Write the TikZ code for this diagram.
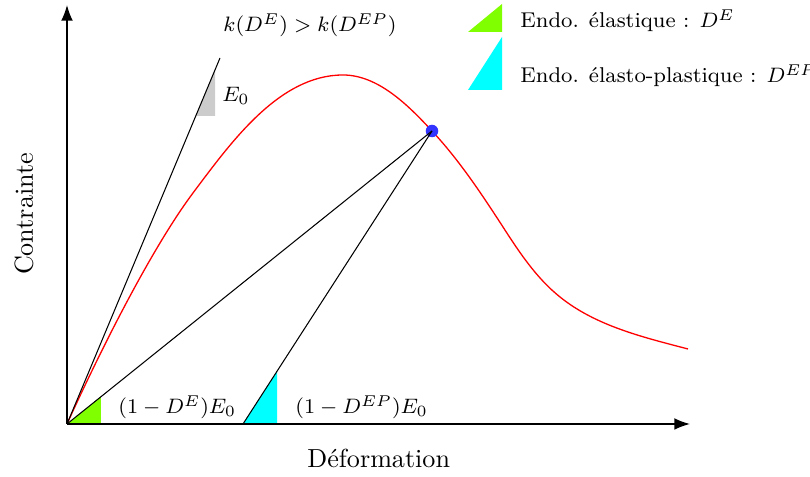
\documentclass[tikz,border=0pt]{standalone}
\usepackage{amsmath}
\usepackage{amssymb}
\usepackage{xcolor}
\usepackage{tikz}
\usetikzlibrary{arrows.meta,calc}

\definecolor{vertendo}{RGB}{128,255,0}
\definecolor{cyanendo}{RGB}{0,255,255}

\begin{document}
\begin{tikzpicture}[
    x=9.58pt, y=9.58pt,
    axis/.style={-{Latex[length=6pt,width=4.5pt]}, semithick},
    fine/.style={black, line width=0.4pt},
    courbe/.style={red, line width=0.5pt},
    txt/.style={anchor=base west},
    lab/.style={anchor=base west, font=\fontsize{8.5pt}{10pt}\selectfont},
    leg/.style={anchor=base west, font=\fontsize{8.2pt}{10pt}\selectfont},
    dot/.style={circle, fill=blue!80, inner sep=0pt, minimum size=4.8pt}
]
    \useasboundingbox (-2.68,-2.12) rectangle (29.72,16.96);

    % reperes
    \coordinate (O) at (0,0);
    \coordinate (xmax) at (24.92,0);
    \coordinate (ymax) at (0,16.76);
    \coordinate (E0end) at (6.12,14.64);
    \coordinate (dech) at (7.04,0);

    % pentes (triangles)
    \fill [gray!40] (5.16,12.32) -- (5.92,12.32) -- (5.92,14.16) -- cycle;
    \fill [vertendo] (O) -- (1.36,0) -- (1.36,1.09) -- cycle;
    \fill [cyanendo] (dech) -- (8.4,0) -- (8.4,2.11) -- cycle;

    % legende
    \fill [vertendo] (16.04,15.68) -- (17.4,15.68) -- (17.4,16.8) -- cycle;
    \fill [cyanendo] (16.04,13.36) -- (17.4,13.36) -- (17.4,15.48) -- cycle;
    \node [leg] (legE) at (17.77,15.84) {Endo. élastique : $D^E$};
    \node [leg] (legEP) at (17.77,13.64) {Endo. élasto-plastique : $D^{EP}$};

    % courbe contrainte-deformation
    \draw [courbe] (O) .. controls (1.45,3.19) and (3.44,7.1) .. (5.04,9.24)
        .. controls (6.57,11.28) and (8.49,13.96) .. (11.04,13.96)
        .. controls (12.44,13.96) and (13.65,12.75) .. (14.6,11.72)
        .. controls (15.69,10.55) and (16.57,9.22) .. (17.44,7.88)
        .. controls (18.09,6.87) and (18.78,5.83) .. (19.72,5.08)
        .. controls (21.16,3.92) and (23.05,3.47) .. (24.84,3.0);

    \node [dot] (pic) at (14.6,11.72) {};

    \draw [fine] (O) -- (E0end);
    \draw [fine] (O) -- (pic.center);
    \draw [fine] (dech) -- (pic.center);

    % axes
    \draw [axis] (O) -- (xmax);
    \draw [axis] (O) -- (ymax);

    % textes
    \node [lab] (kk) at (5.89,15.68) {$k(D^E) > k(D^{EP})$};
    \node [lab] (e0) at (5.85,12.88) {$E_0$};
    \node [lab] (dE) at (1.69,0.4) {$(1-D^E)E_0$};
    \node [lab] (dEP) at (8.77,0.4) {$(1-D^{EP})E_0$};
    \node [txt] (xlab) at (9.25,-1.76) {Déformation};
    \node [anchor=base, rotate=90] (ylab) at (-1.36,8.4) {Contrainte};
\end{tikzpicture}
\end{document}
